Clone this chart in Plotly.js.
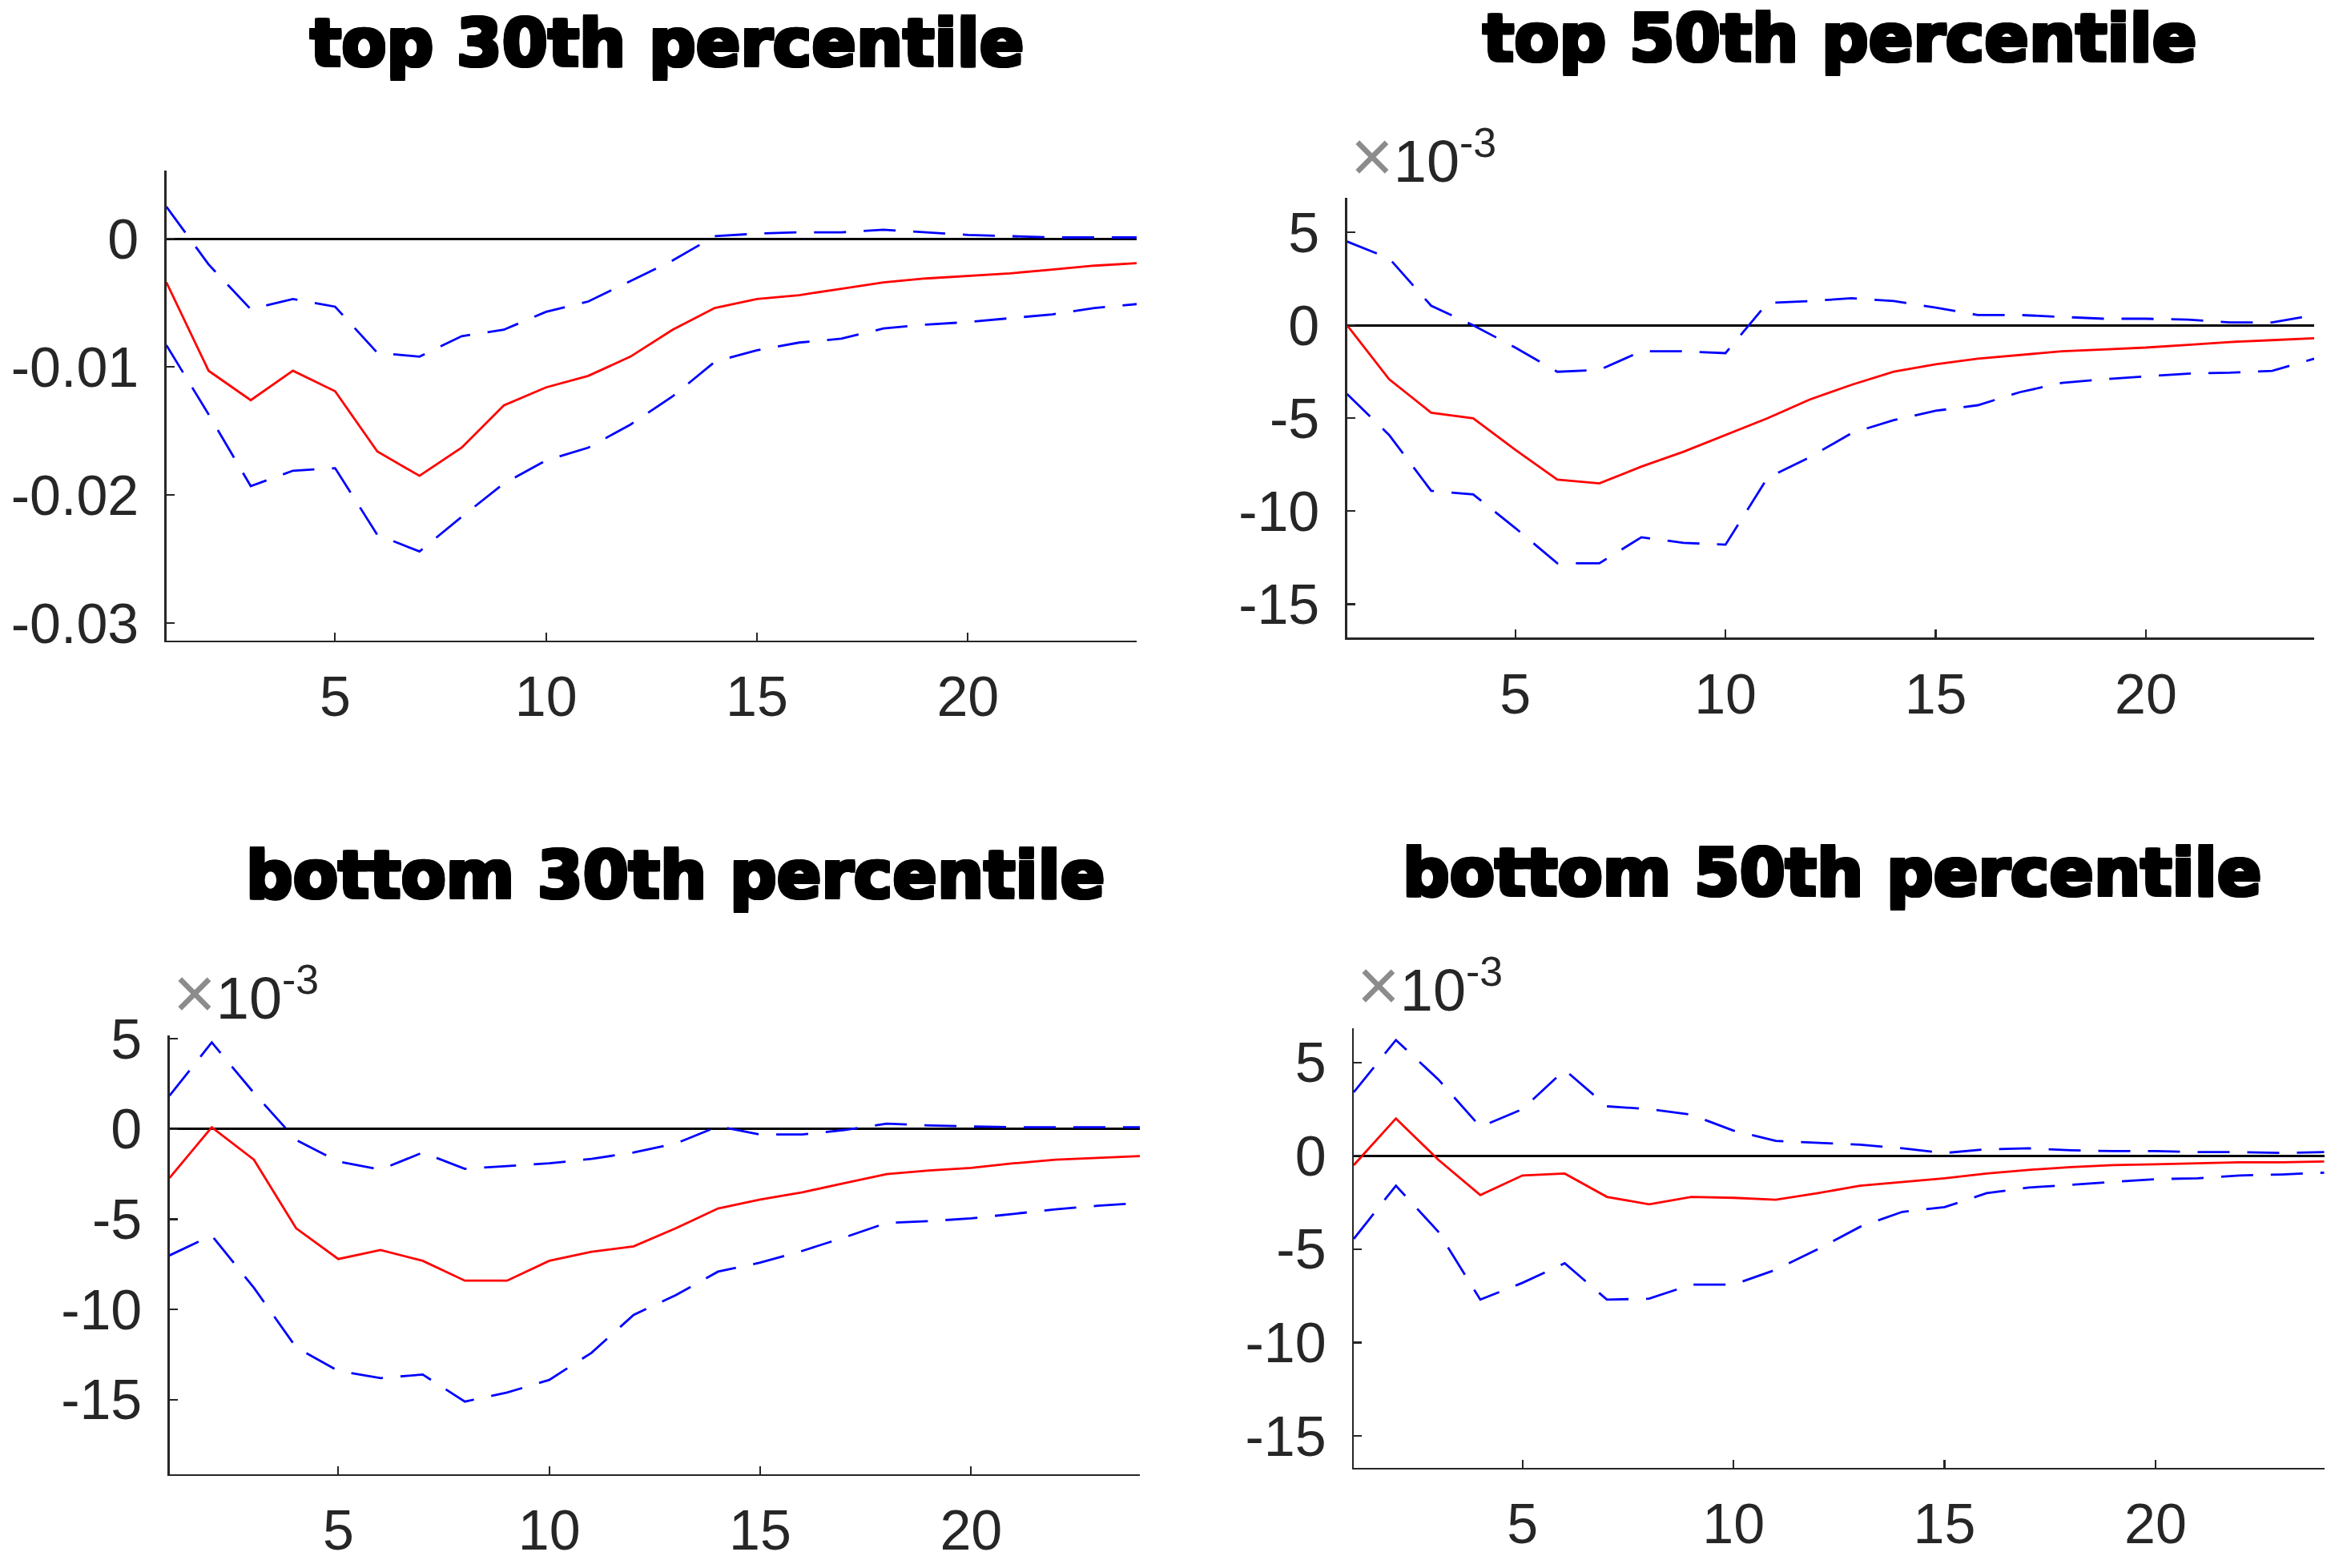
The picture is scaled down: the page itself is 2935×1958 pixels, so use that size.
<!DOCTYPE html>
<html>
<head>
<meta charset="utf-8">
<script src="https://cdn.plot.ly/plotly-3.0.1.min.js"></script>
<style>html,body{margin:0;padding:0;background:#fff;}#chart{width:2935px;height:1958px;}</style>
</head>
<body>
<div id="chart"></div>
<script>
// ---------------- data ----------------
const horizon = [1,2,3,4,5,6,7,8,9,10,11,12,13,14,15,16,17,18,19,20,21,22,23,24];

const panelTitles = ["top 30th percentile", "top 50th percentile", "bottom 30th percentile", "bottom 50th percentile"];

// top 30th percentile (raw units)
const top30_irf   = [-0.0034,-0.0103,-0.0126,-0.0103,-0.0119,-0.0166,-0.0185,-0.0163,-0.0130,-0.0116,-0.0107,-0.0092,-0.0071,-0.0054,-0.0047,-0.0044,-0.0039,-0.0034,-0.0031,-0.0029,-0.0027,-0.0024,-0.0021,-0.0019];
const top30_upper = [0.0025,-0.0020,-0.0055,-0.0047,-0.0053,-0.0089,-0.0092,-0.0076,-0.0071,-0.0057,-0.0049,-0.0033,-0.0017,0.0002,0.0004,0.0005,0.0005,0.0007,0.0005,0.0003,0.0002,0.0001,0.0001,0.0001];
const top30_lower = [-0.0083,-0.0137,-0.0193,-0.0181,-0.0179,-0.0231,-0.0244,-0.0217,-0.0191,-0.0173,-0.0163,-0.0145,-0.0123,-0.0096,-0.0087,-0.0081,-0.0078,-0.0070,-0.0067,-0.0065,-0.0062,-0.0059,-0.0054,-0.0051];

// top 50th percentile (x 10^-3)
const top50_irf   = [0,-2.9,-4.7,-5.0,-6.7,-8.3,-8.5,-7.6,-6.8,-5.9,-5.0,-4.0,-3.2,-2.5,-2.1,-1.8,-1.6,-1.4,-1.3,-1.2,-1.05,-0.9,-0.8,-0.7];
const top50_upper = [4.5,3.6,1.05,0.0,-1.2,-2.5,-2.4,-1.4,-1.4,-1.5,1.2,1.3,1.45,1.3,0.95,0.55,0.55,0.45,0.35,0.35,0.3,0.15,0.15,0.55];
const top50_lower = [-3.7,-5.9,-8.9,-9.1,-10.9,-12.8,-12.8,-11.4,-11.7,-11.8,-8.2,-7.1,-5.8,-5.1,-4.6,-4.3,-3.6,-3.1,-2.9,-2.75,-2.6,-2.55,-2.45,-1.8];

// bottom 30th percentile (x 10^-3)
const bot30_irf   = [-2.7,0.1,-1.7,-5.5,-7.2,-6.7,-7.3,-8.4,-8.4,-7.3,-6.8,-6.5,-5.5,-4.4,-3.9,-3.5,-3.0,-2.5,-2.3,-2.15,-1.9,-1.7,-1.6,-1.5];
const bot30_upper = [1.85,4.8,2.0,-0.6,-1.8,-2.25,-1.3,-2.2,-2.05,-1.9,-1.65,-1.3,-0.8,0.15,-0.3,-0.3,-0.05,0.3,0.2,0.15,0.1,0.1,0.1,0.1];
const bot30_lower = [-7.0,-5.9,-8.8,-12.1,-13.4,-13.8,-13.6,-15.1,-14.6,-13.9,-12.4,-10.3,-9.2,-7.9,-7.4,-6.75,-6.0,-5.2,-5.1,-4.95,-4.7,-4.45,-4.25,-4.1];

// bottom 50th percentile (x 10^-3)
const bot50_irf   = [-0.5,2.0,-0.2,-2.1,-1.05,-0.95,-2.2,-2.6,-2.2,-2.25,-2.35,-2.0,-1.6,-1.4,-1.2,-0.95,-0.75,-0.6,-0.5,-0.45,-0.4,-0.35,-0.35,-0.3];
const bot50_upper = [3.4,6.2,4.1,1.55,2.5,4.6,2.65,2.5,2.2,1.35,0.8,0.7,0.6,0.4,0.15,0.35,0.4,0.3,0.25,0.25,0.2,0.2,0.15,0.2];
const bot50_lower = [-4.45,-1.6,-4.05,-7.7,-6.8,-5.75,-7.7,-7.65,-6.9,-6.9,-6.1,-5.0,-3.8,-3.0,-2.75,-2.0,-1.7,-1.55,-1.4,-1.25,-1.2,-1.05,-1.0,-0.9];

// tick labels
const xTickVals = [5,10,15,20];
const xTickText = ["5","10","15","20"];
const yTickVals1 = [0,-0.01,-0.02,-0.03];
const yTickText1 = ["0","-0.01","-0.02","-0.03"];
const yTickValsE = [5,0,-5,-10,-15];
const yTickTextE = ["5","0","-5","-10","-15"];

// ---------------- layout helpers ----------------
const W = 2935, H = 1958;
const px = v => v / W;
const py = v => 1 - v / H;

// plot boxes in pixels: [left, right, top, bottom]
const boxes = [
  [207.7, 1419, 213.3, 800],
  [1681.7, 2889, 247.3, 796.3],
  [211.7, 1423, 1292.7, 1841],
  [1690, 2901.7, 1284, 1833]
];
const yRanges = [[-0.03136, 0.0053], [-16.8, 6.84], [-19.13, 5.2], [-16.71, 6.83]];

const series = [
  [top30_irf, top30_upper, top30_lower],
  [top50_irf, top50_upper, top50_lower],
  [bot30_irf, bot30_upper, bot30_lower],
  [bot50_irf, bot50_upper, bot50_lower]
];

const tickFont = {family: "Liberation Sans, Arial, sans-serif", size: 70, color: "#262626"};
const axisColor = "#262626";

const traces = [];
const layout = {
  width: W, height: H,
  margin: {l: 0, r: 0, t: 0, b: 0},
  paper_bgcolor: "#ffffff",
  plot_bgcolor: "#ffffff",
  showlegend: false,
  annotations: [],
  font: tickFont
};

series.forEach((s, i) => {
  const n = i === 0 ? "" : String(i + 1);
  const xa = "x" + n, ya = "y" + n;
  const [irf, up, lo] = s;
  traces.push({x: horizon, y: up, xaxis: xa, yaxis: ya, mode: "lines", line: {color: "#0000ff", width: 2.8, dash: "40px,22px"}, hoverinfo: "skip"});
  traces.push({x: horizon, y: lo, xaxis: xa, yaxis: ya, mode: "lines", line: {color: "#0000ff", width: 2.8, dash: "40px,22px"}, hoverinfo: "skip"});
  traces.push({x: horizon, y: irf, xaxis: xa, yaxis: ya, mode: "lines", line: {color: "#ff0000", width: 2.8}, hoverinfo: "skip"});

  const b = boxes[i];
  layout["xaxis" + n] = {
    domain: [px(b[0]), px(b[1])],
    anchor: ya,
    range: [1, 24],
    showgrid: false, zeroline: false,
    showline: true, linecolor: axisColor, linewidth: 2.4,
    ticks: "inside", ticklen: 10, tickwidth: 2.2, tickcolor: axisColor,
    tickvals: xTickVals, ticktext: xTickText,
    tickfont: tickFont, ticklabelstandoff: 8
  };
  layout["yaxis" + n] = {
    domain: [py(b[3]), py(b[2])],
    anchor: xa,
    range: yRanges[i],
    showgrid: false,
    zeroline: true, zerolinecolor: "#000000", zerolinewidth: 3,
    showline: true, linecolor: axisColor, linewidth: 2.4,
    ticks: "inside", ticklen: 10, tickwidth: 2.2, tickcolor: axisColor,
    tickvals: i === 0 ? yTickVals1 : yTickValsE,
    ticktext: i === 0 ? yTickText1 : yTickTextE,
    tickfont: tickFont, ticklabelstandoff: 18
  };
});

// panel titles (center x, baseline y in px)
const titlePos = [[832, 81], [2296, 75], [843, 1120], [2287, 1117]];
titlePos.forEach((p, i) => {
  layout.annotations.push({
    text: panelTitles[i], xref: "paper", yref: "paper",
    x: px(p[0]), y: py(p[1] - 28), xanchor: "center", yanchor: "middle",
    showarrow: false,
    font: {family: "DejaVu Sans, sans-serif", size: 82, weight: "bold", color: "#000000",
           shadow: "2px 0 0 #000, -2px 0 0 #000, 0 2px 0 #000, 0 -2px 0 #000, 2px 2px 0 #000, -2px -2px 0 #000, 2px -2px 0 #000, -2px 2px 0 #000"}
  });
});

// exponent labels (left x, baseline y in px)
const expPos = [null, [1684, 230], [214, 1275], [1692, 1265]];
expPos.forEach(p => {
  if (!p) return;
  layout.annotations.push({
    text: '<span style="color:#8c8c8c;font-size:92px">×</span>10<sup>-3</sup>',
    xref: "paper", yref: "paper",
    x: px(p[0]), y: py(p[1] + 18), xanchor: "left", yanchor: "bottom",
    showarrow: false,
    font: {family: "Liberation Sans, Arial, sans-serif", size: 74, color: "#262626"}
  });
});

Plotly.newPlot("chart", traces, layout, {staticPlot: true, displayModeBar: false});
</script>
</body>
</html>
